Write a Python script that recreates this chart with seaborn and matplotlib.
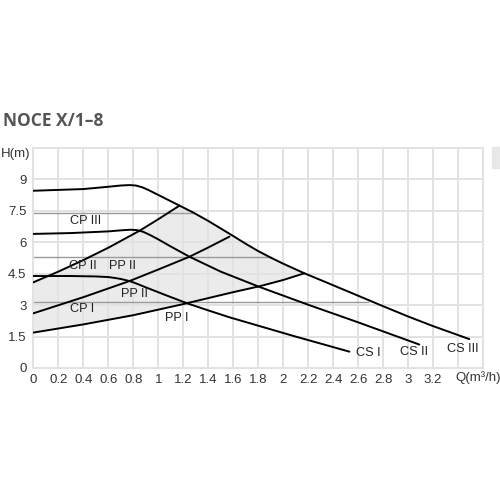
import numpy as np
import pandas as pd
import matplotlib
matplotlib.use("Agg")
import matplotlib.pyplot as plt
from matplotlib.patches import Rectangle
import seaborn as sns

# pump curves (CS = constant speed)
cs3_q = [0, 0.2, 0.4, 0.6, 0.7, 0.77, 0.82, 0.87, 0.92, 0.97, 1.03, 1.1, 1.17, 1.28, 1.4, 1.5, 1.6,
         1.7, 1.8, 1.9, 2.0, 2.17, 2.4, 2.6, 2.8, 3.0, 3.2, 3.49]
cs3_h = [8.46, 8.5, 8.54, 8.65, 8.71, 8.73, 8.71, 8.63, 8.5, 8.35, 8.17, 7.96, 7.75, 7.42, 7.02, 6.66, 6.3,
         5.93, 5.58, 5.27, 4.98, 4.52, 3.95, 3.45, 2.95, 2.46, 2.0, 1.38]
cs2_q = [0, 0.3, 0.6, 0.7, 0.78, 0.83, 0.88, 0.94, 1.0, 1.1, 1.25, 1.5, 1.81, 2.2, 2.6, 3.09]
cs2_h = [6.4, 6.44, 6.52, 6.57, 6.6, 6.58, 6.5, 6.33, 6.14, 5.8, 5.31, 4.6, 3.87, 3.02, 2.18, 1.12]
cs1_q = [0, 0.3, 0.5, 0.6, 0.65, 0.7, 0.77, 0.83, 0.9, 1.05, 1.23, 1.4, 1.57, 1.8, 2.1, 2.53]
cs1_h = [4.39, 4.39, 4.37, 4.34, 4.3, 4.25, 4.15, 4.02, 3.85, 3.5, 3.09, 2.75, 2.42, 2.02, 1.5, 0.78]

# proportional pressure curves (rising)
pp_low_q = [0, 0.4, 0.8, 1.2, 1.6, 1.81, 2.0, 2.17]
pp_low_h = [1.69, 2.08, 2.52, 3.05, 3.62, 3.9, 4.2, 4.52]
pp_mid_q = [0, 0.4, 0.77, 1.0, 1.25, 1.4, 1.57]
pp_mid_h = [2.61, 3.38, 4.15, 4.7, 5.31, 5.75, 6.27]
pp_top_q = [0, 0.2, 0.4, 0.6, 0.85, 1.0, 1.17]
pp_top_h = [4.09, 4.6, 5.15, 5.74, 6.55, 7.1, 7.75]

# constant pressure reference lines (level, end of line)
cp_h = [7.4, 5.3, 3.16]
cp_end = [1.28, 1.91, 2.69]

labels = ["CP III", "CP II", "PP II", "PP II", "CP I", "PP I", "CS I", "CS II", "CS III"]
label_q = [0.42, 0.4, 0.71, 0.81, 0.39, 1.15, 2.68, 3.05, 3.44]
label_h = [7.0, 4.86, 4.86, 3.52, 2.8, 2.38, 0.71, 0.76, 0.9]

xticks = [0, 0.2, 0.4, 0.6, 0.8, 1, 1.2, 1.4, 1.6, 1.8, 2, 2.2, 2.4, 2.6, 2.8, 3, 3.2, 3.4, 3.6]
yticks = [0, 1.5, 3, 4.5, 6, 7.5, 9, 10.5]

sns.set_style("white")
plt.rcParams['font.family'] = ['Liberation Sans', 'DejaVu Sans']

fig = plt.figure(figsize=(5, 5), dpi=100)
ax = fig.add_axes([0.0667, 0.264, 0.8993, 0.44])

# shaded working area
cs3_part = [(q, h) for q, h in zip(cs3_q, cs3_h) if 1.17 <= q <= 2.17]
poly_q = pp_low_q + [q for q, h in cs3_part][::-1] + pp_top_q[::-1]
poly_h = pp_low_h + [h for q, h in cs3_part][::-1] + pp_top_h[::-1]
ax.fill(poly_q, poly_h, color='#ebebeb', zorder=0.3, lw=0)

ax.hlines(cp_h, [0] * len(cp_h), cp_end, color='#9a9a9a', lw=1.0, zorder=2)

for q, h in [(cs3_q, cs3_h), (cs2_q, cs2_h), (cs1_q, cs1_h),
             (pp_low_q, pp_low_h), (pp_mid_q, pp_mid_h), (pp_top_q, pp_top_h)]:
    sns.lineplot(x=q, y=h, ax=ax, color='black', lw=1.4, sort=False, zorder=3)

for t, q, h in zip(labels, label_q, label_h):
    ax.text(q, h, t, fontsize=9.2, ha='center', va='center', color='#222222', zorder=4)

ax.set_xlim(0, 3.6)
ax.set_ylim(0, 10.5)
ax.set_xticks(xticks)
ax.set_xticklabels([f"{v:g}" for v in xticks[:-2]] + ["", ""])
ax.set_yticks(yticks)
ax.set_yticklabels([f"{v:g}" for v in yticks[:-1]] + [""])
ax.tick_params(length=0, labelsize=9.5, colors='#333333')
ax.tick_params(axis='y', pad=5)
ax.tick_params(axis='x', pad=4)
ax.grid(True, color='#e2e2e2', lw=1.4)
ax.set_axisbelow(True)
for s in ax.spines.values():
    s.set_color('#e2e2e2')
    s.set_linewidth(1.4)

ax.text(-0.006, 10.2, "H(m)", transform=ax.get_yaxis_transform(), ha='right', va='center',
        fontsize=9.5, color='#333333')
ax.text(3.56, -0.45, "Q(m³/h)", ha='center', va='center', fontsize=9.5, color='#333333')

fig.text(0.006, 0.758, "NOCE X/1–8", fontsize=12.5, fontweight='bold', color='#555555',
         family=['Open Sans', 'DejaVu Sans'], ha='left', va='center')
fig.patches.append(Rectangle((0.984, 0.664), 0.016, 0.042, transform=fig.transFigure,
                             color='#e8e8e8', zorder=0))

fig.savefig("out.png", dpi=100)
